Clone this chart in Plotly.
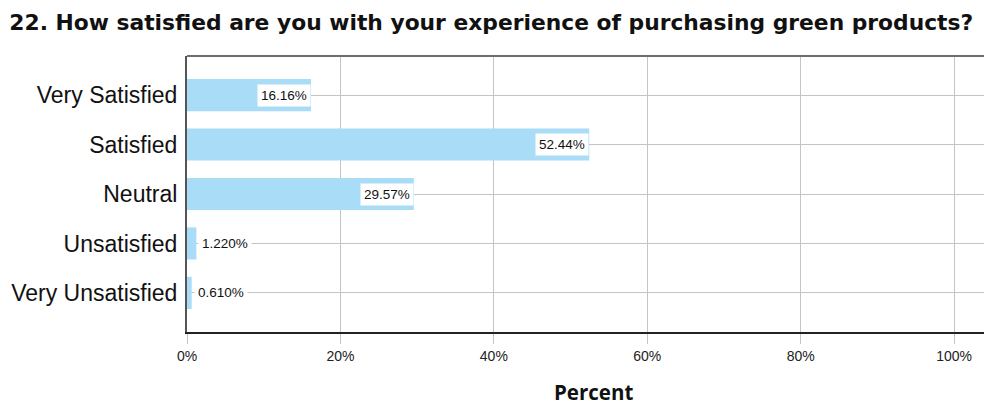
import plotly.graph_objects as go

# Survey responses, question 22
categories = ["Very Satisfied", "Satisfied", "Neutral", "Unsatisfied", "Very Unsatisfied"]
percents = [16.16, 52.44, 29.57, 1.220, 0.610]
value_labels = ["16.16%", "52.44%", "29.57%", "1.220%", "0.610%"]
tick_values = [0, 20, 40, 60, 80, 100]
tick_labels = ["0%", "20%", "40%", "60%", "80%", "100%"]

title_text = "22. How satisfied are you with your experience of purchasing green products?"
x_title = "Percent"

bar_color = "#a9dcf6"
grid_color = "#c4c4c4"

fig = go.Figure()
fig.add_trace(go.Bar(
    x=percents,
    y=categories,
    orientation="h",
    marker=dict(color=bar_color, line=dict(width=0)),
    width=0.65,
    hoverinfo="skip",
))

# Value labels on white boxes: inside the bar end for long bars, outside for short ones
for cat, val, lab in zip(categories, percents, value_labels):
    inside = val > 10
    fig.add_annotation(
        x=val, y=cat, xref="x", yref="y",
        text=lab, showarrow=False,
        xanchor="right" if inside else "left",
        xshift=0 if inside else 2,
        bgcolor="white",
        borderpad=3,
        font=dict(family="Liberation Sans, Arial, sans-serif", size=13.5, color="#111"),
    )

# Axis title placed below the tick labels
fig.add_annotation(
    x=0.51, y=0, xref="paper", yref="paper",
    text="<b>" + x_title + "</b>", showarrow=False,
    xanchor="center", yanchor="middle", yshift=-60,
    font=dict(family="Open Sans, sans-serif", size=20.5, color="#111"),
)

# Frame: gray top edge
fig.add_shape(type="line", xref="paper", yref="paper", x0=0, x1=1, y0=1, y1=1,
              line=dict(color="#6e6e6e", width=2), layer="above")

fig.update_layout(
    width=984, height=405,
    margin=dict(l=187, r=0, t=56, b=73),
    paper_bgcolor="white", plot_bgcolor="white",
    showlegend=False,
    title=dict(
        text="<b>" + title_text + "</b>",
        x=0.0095, xanchor="left", y=0.945, yanchor="middle",
        font=dict(family="DejaVu Sans, sans-serif", size=21.8, color="#111"),
    ),
    xaxis=dict(
        range=[0, 103.9],
        tickvals=tick_values, ticktext=tick_labels,
        showgrid=True, gridcolor=grid_color, gridwidth=1,
        zeroline=False,
        showline=True, linecolor="#222", linewidth=2,
        ticks="outside", ticklen=10, tickcolor=grid_color, tickwidth=1,
        tickfont=dict(family="Liberation Sans, Arial, sans-serif", size=14, color="#222"),
        fixedrange=True,
    ),
    yaxis=dict(
        type="category",
        categoryorder="array", categoryarray=categories,
        range=[4.79, -0.79],
        showgrid=True, gridcolor=grid_color, gridwidth=1,
        zeroline=False,
        showline=True, linecolor="#555", linewidth=2,
        ticks="", ticklabelstandoff=3,
        tickfont=dict(family="Liberation Sans, Arial, sans-serif", size=23, color="#111"),
        fixedrange=True,
    ),
    bargap=0.35,
)

fig.write_html("out.html")
